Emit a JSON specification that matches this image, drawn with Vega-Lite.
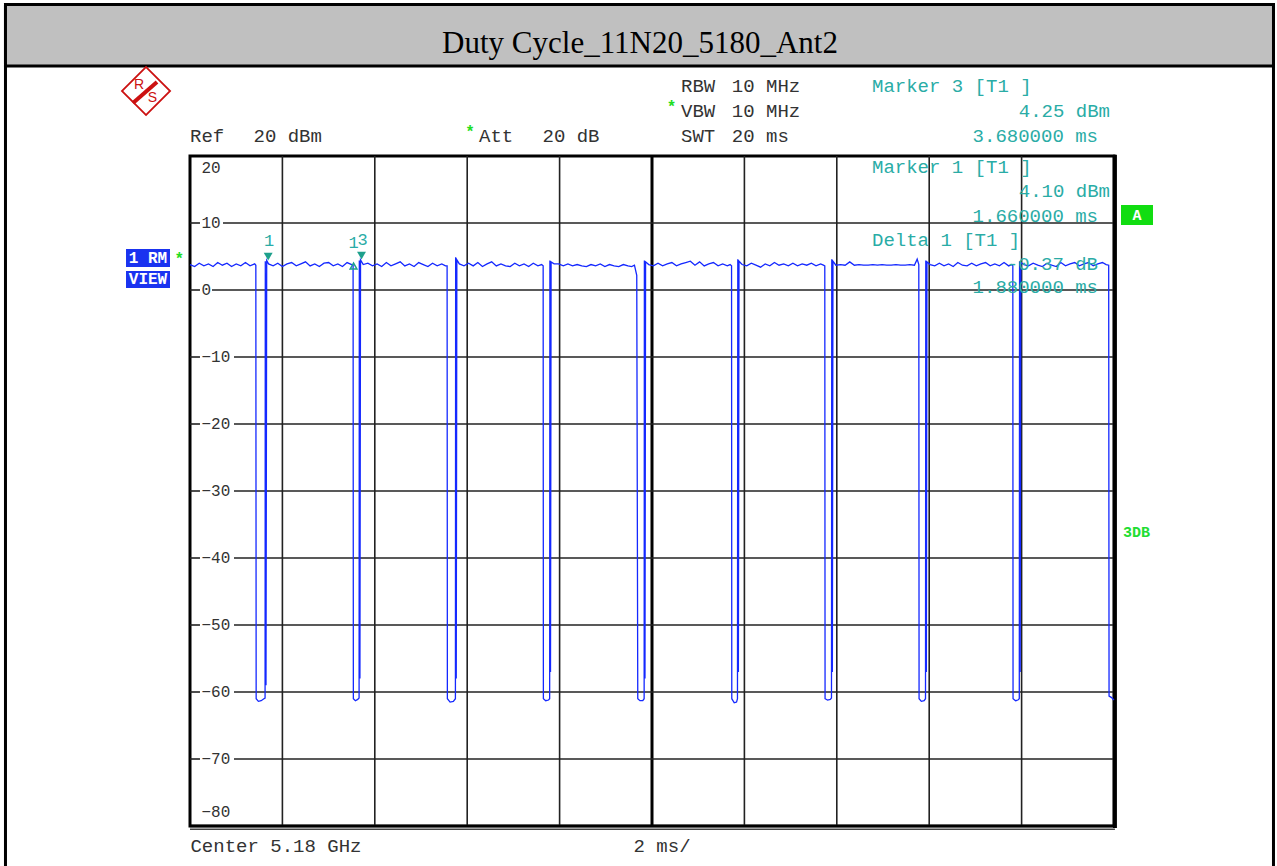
{
  "$schema": "https://vega.github.io/schema/vega-lite/v6.json",
  "width": 924,
  "height": 670,
  "autosize": {"type": "none"},
  "padding": {"left": 190, "top": 156, "right": 163, "bottom": 40},
  "background": "#ffffff",
  "config": {
    "view": {"stroke": "#000000", "strokeWidth": 3},
    "axis": {"disable": true}
  },
  "datasets": {
    "trace": [
      {"t": 0, "dbm": 3.8}, {"t": 0.1, "dbm": 3.5}, {"t": 0.2, "dbm": 4.0}, {"t": 0.3, "dbm": 3.6}, {"t": 0.4, "dbm": 3.9}, {"t": 0.5, "dbm": 3.5}, {"t": 0.6, "dbm": 4.1}, {"t": 0.7, "dbm": 3.7}, {"t": 0.8, "dbm": 4.0}, {"t": 0.9, "dbm": 3.5}, {"t": 1.0, "dbm": 3.9}, {"t": 1.1, "dbm": 3.6}, {"t": 1.2, "dbm": 4.1}, {"t": 1.3, "dbm": 3.6}, {"t": 1.4, "dbm": 3.9}, {"t": 1.425, "dbm": 3.7}, {"t": 1.432, "dbm": -61.0}, {"t": 1.48, "dbm": -61.4}, {"t": 1.54, "dbm": -61.3}, {"t": 1.6, "dbm": -61.0}, {"t": 1.625, "dbm": -60.9}, {"t": 1.63, "dbm": 4.3}, {"t": 1.645, "dbm": -59.0}, {"t": 1.66, "dbm": 4.4}, {"t": 1.7, "dbm": 3.9},
      {"t": 1.8, "dbm": 3.6}, {"t": 1.9, "dbm": 4.0}, {"t": 2.0, "dbm": 3.5}, {"t": 2.1, "dbm": 3.9}, {"t": 2.2, "dbm": 4.1}, {"t": 2.3, "dbm": 3.6}, {"t": 2.4, "dbm": 3.9}, {"t": 2.5, "dbm": 4.2}, {"t": 2.6, "dbm": 3.6}, {"t": 2.7, "dbm": 3.9}, {"t": 2.8, "dbm": 3.5}, {"t": 2.9, "dbm": 4.0}, {"t": 3.0, "dbm": 4.1}, {"t": 3.1, "dbm": 3.6}, {"t": 3.2, "dbm": 3.9}, {"t": 3.3, "dbm": 3.5}, {"t": 3.4, "dbm": 4.1}, {"t": 3.5, "dbm": 3.8}, {"t": 3.53, "dbm": 3.7}, {"t": 3.536, "dbm": -61.0}, {"t": 3.58, "dbm": -61.3}, {"t": 3.63, "dbm": -61.1}, {"t": 3.66, "dbm": -60.9}, {"t": 3.665, "dbm": 4.4}, {"t": 3.678, "dbm": -58.0}, {"t": 3.691, "dbm": 4.5}, {"t": 3.75, "dbm": 3.8},
      {"t": 3.85, "dbm": 4.0}, {"t": 3.95, "dbm": 3.6}, {"t": 4.05, "dbm": 3.9}, {"t": 4.15, "dbm": 3.5}, {"t": 4.25, "dbm": 4.1}, {"t": 4.35, "dbm": 3.6}, {"t": 4.45, "dbm": 3.9}, {"t": 4.55, "dbm": 4.2}, {"t": 4.65, "dbm": 3.6}, {"t": 4.75, "dbm": 3.9}, {"t": 4.85, "dbm": 3.5}, {"t": 4.95, "dbm": 4.1}, {"t": 5.05, "dbm": 3.8}, {"t": 5.15, "dbm": 3.5}, {"t": 5.25, "dbm": 4.0}, {"t": 5.35, "dbm": 3.6}, {"t": 5.45, "dbm": 3.9}, {"t": 5.53, "dbm": 3.6}, {"t": 5.565, "dbm": 3.6}, {"t": 5.571, "dbm": -61.0}, {"t": 5.63, "dbm": -61.5}, {"t": 5.7, "dbm": -61.4}, {"t": 5.745, "dbm": -61.0}, {"t": 5.75, "dbm": 4.9}, {"t": 5.763, "dbm": -58.0}, {"t": 5.776, "dbm": 4.5}, {"t": 5.83, "dbm": 3.9},
      {"t": 5.93, "dbm": 3.6}, {"t": 6.03, "dbm": 4.0}, {"t": 6.13, "dbm": 3.6}, {"t": 6.23, "dbm": 4.1}, {"t": 6.33, "dbm": 3.5}, {"t": 6.43, "dbm": 3.9}, {"t": 6.53, "dbm": 4.2}, {"t": 6.63, "dbm": 3.6}, {"t": 6.73, "dbm": 3.9}, {"t": 6.83, "dbm": 3.6}, {"t": 6.93, "dbm": 3.5}, {"t": 7.03, "dbm": 4.0}, {"t": 7.13, "dbm": 3.6}, {"t": 7.23, "dbm": 3.9}, {"t": 7.33, "dbm": 3.5}, {"t": 7.43, "dbm": 4.0}, {"t": 7.53, "dbm": 3.6}, {"t": 7.61, "dbm": 3.8}, {"t": 7.644, "dbm": 3.6}, {"t": 7.649, "dbm": -61.0}, {"t": 7.7, "dbm": -61.3}, {"t": 7.76, "dbm": -61.2}, {"t": 7.785, "dbm": -61.0}, {"t": 7.79, "dbm": 4.4}, {"t": 7.803, "dbm": -57.0}, {"t": 7.816, "dbm": 4.2}, {"t": 7.88, "dbm": 3.9},
      {"t": 7.98, "dbm": 3.9}, {"t": 8.08, "dbm": 3.6}, {"t": 8.18, "dbm": 3.9}, {"t": 8.28, "dbm": 3.6}, {"t": 8.38, "dbm": 3.8}, {"t": 8.48, "dbm": 3.6}, {"t": 8.58, "dbm": 3.5}, {"t": 8.68, "dbm": 3.8}, {"t": 8.78, "dbm": 3.6}, {"t": 8.88, "dbm": 3.9}, {"t": 8.98, "dbm": 3.5}, {"t": 9.08, "dbm": 3.8}, {"t": 9.18, "dbm": 3.6}, {"t": 9.28, "dbm": 3.5}, {"t": 9.38, "dbm": 3.8}, {"t": 9.48, "dbm": 3.6}, {"t": 9.56, "dbm": 3.5}, {"t": 9.62, "dbm": 3.7}, {"t": 9.67, "dbm": 2.2}, {"t": 9.692, "dbm": -61.0}, {"t": 9.74, "dbm": -61.3}, {"t": 9.8, "dbm": -61.3}, {"t": 9.83, "dbm": -61.0}, {"t": 9.835, "dbm": 4.4}, {"t": 9.848, "dbm": -58.0}, {"t": 9.861, "dbm": 4.2}, {"t": 9.93, "dbm": 3.8},
      {"t": 10.03, "dbm": 3.6}, {"t": 10.13, "dbm": 4.0}, {"t": 10.23, "dbm": 3.6}, {"t": 10.33, "dbm": 3.9}, {"t": 10.43, "dbm": 4.1}, {"t": 10.53, "dbm": 3.6}, {"t": 10.63, "dbm": 3.9}, {"t": 10.73, "dbm": 4.1}, {"t": 10.83, "dbm": 4.3}, {"t": 10.93, "dbm": 3.7}, {"t": 11.03, "dbm": 4.2}, {"t": 11.13, "dbm": 3.6}, {"t": 11.23, "dbm": 3.9}, {"t": 11.33, "dbm": 4.1}, {"t": 11.43, "dbm": 3.6}, {"t": 11.53, "dbm": 3.9}, {"t": 11.63, "dbm": 3.6}, {"t": 11.69, "dbm": 3.8}, {"t": 11.722, "dbm": 3.6}, {"t": 11.727, "dbm": -61.0}, {"t": 11.78, "dbm": -61.6}, {"t": 11.83, "dbm": -61.5}, {"t": 11.85, "dbm": -61.0}, {"t": 11.857, "dbm": 4.6}, {"t": 11.87, "dbm": -57.0}, {"t": 11.883, "dbm": 4.3}, {"t": 11.95, "dbm": 3.8},
      {"t": 12.05, "dbm": 3.6}, {"t": 12.15, "dbm": 4.0}, {"t": 12.25, "dbm": 3.7}, {"t": 12.35, "dbm": 3.4}, {"t": 12.45, "dbm": 3.9}, {"t": 12.55, "dbm": 3.6}, {"t": 12.65, "dbm": 4.1}, {"t": 12.75, "dbm": 3.7}, {"t": 12.85, "dbm": 3.9}, {"t": 12.95, "dbm": 3.6}, {"t": 13.05, "dbm": 4.0}, {"t": 13.15, "dbm": 3.6}, {"t": 13.25, "dbm": 3.9}, {"t": 13.35, "dbm": 3.7}, {"t": 13.45, "dbm": 4.0}, {"t": 13.55, "dbm": 3.6}, {"t": 13.65, "dbm": 3.9}, {"t": 13.71, "dbm": 3.7}, {"t": 13.74, "dbm": 3.6}, {"t": 13.746, "dbm": -61.0}, {"t": 13.8, "dbm": -61.2}, {"t": 13.86, "dbm": -61.1}, {"t": 13.885, "dbm": -60.9}, {"t": 13.891, "dbm": 4.6}, {"t": 13.904, "dbm": -57.0}, {"t": 13.917, "dbm": 4.3}, {"t": 13.98, "dbm": 3.7},
      {"t": 14.08, "dbm": 3.8}, {"t": 14.18, "dbm": 3.7}, {"t": 14.28, "dbm": 4.2}, {"t": 14.38, "dbm": 3.7}, {"t": 14.48, "dbm": 3.8}, {"t": 14.58, "dbm": 3.7}, {"t": 14.68, "dbm": 3.7}, {"t": 14.78, "dbm": 3.8}, {"t": 14.88, "dbm": 3.7}, {"t": 14.98, "dbm": 3.8}, {"t": 15.08, "dbm": 3.7}, {"t": 15.18, "dbm": 3.7}, {"t": 15.28, "dbm": 3.8}, {"t": 15.38, "dbm": 3.7}, {"t": 15.48, "dbm": 3.7}, {"t": 15.58, "dbm": 3.8}, {"t": 15.68, "dbm": 3.7}, {"t": 15.74, "dbm": 4.6}, {"t": 15.775, "dbm": 3.8}, {"t": 15.781, "dbm": -61.0}, {"t": 15.83, "dbm": -61.4}, {"t": 15.89, "dbm": -61.3}, {"t": 15.92, "dbm": -61.0}, {"t": 15.926, "dbm": 4.4}, {"t": 15.939, "dbm": -57.0}, {"t": 15.952, "dbm": 4.2}, {"t": 16.02, "dbm": 3.8},
      {"t": 16.12, "dbm": 3.6}, {"t": 16.22, "dbm": 4.0}, {"t": 16.32, "dbm": 3.6}, {"t": 16.42, "dbm": 3.9}, {"t": 16.52, "dbm": 3.5}, {"t": 16.62, "dbm": 4.1}, {"t": 16.72, "dbm": 3.7}, {"t": 16.82, "dbm": 3.6}, {"t": 16.92, "dbm": 4.0}, {"t": 17.02, "dbm": 3.6}, {"t": 17.12, "dbm": 3.9}, {"t": 17.22, "dbm": 4.1}, {"t": 17.32, "dbm": 3.6}, {"t": 17.42, "dbm": 3.9}, {"t": 17.52, "dbm": 3.6}, {"t": 17.62, "dbm": 4.1}, {"t": 17.72, "dbm": 3.6}, {"t": 17.78, "dbm": 3.8}, {"t": 17.81, "dbm": 3.6}, {"t": 17.815, "dbm": -61.0}, {"t": 17.87, "dbm": -61.3}, {"t": 17.92, "dbm": -61.2}, {"t": 17.95, "dbm": -61.0}, {"t": 17.956, "dbm": 4.3}, {"t": 17.969, "dbm": -57.0}, {"t": 17.982, "dbm": 4.1}, {"t": 18.05, "dbm": 3.8},
      {"t": 18.15, "dbm": 3.6}, {"t": 18.25, "dbm": 4.0}, {"t": 18.35, "dbm": 3.7}, {"t": 18.45, "dbm": 3.5}, {"t": 18.55, "dbm": 4.0}, {"t": 18.65, "dbm": 3.7}, {"t": 18.75, "dbm": 3.5}, {"t": 18.85, "dbm": 4.1}, {"t": 18.95, "dbm": 3.6}, {"t": 19.05, "dbm": 3.9}, {"t": 19.15, "dbm": 4.1}, {"t": 19.25, "dbm": 3.6}, {"t": 19.35, "dbm": 3.9}, {"t": 19.45, "dbm": 4.1}, {"t": 19.55, "dbm": 3.6}, {"t": 19.65, "dbm": 3.9}, {"t": 19.75, "dbm": 4.1}, {"t": 19.83, "dbm": 3.8}, {"t": 19.885, "dbm": 3.7}, {"t": 19.893, "dbm": -60.6}, {"t": 19.94, "dbm": -60.8}, {"t": 20.0, "dbm": -61.2}
    ],
    "hlev": [{"level": 10}, {"level": 0}, {"level": -10}, {"level": -20}, {"level": -30}, {"level": -40}, {"level": -50}, {"level": -60}, {"level": -70}],
    "vlev": [{"t": 2}, {"t": 4}, {"t": 6}, {"t": 8}, {"t": 12}, {"t": 14}, {"t": 16}, {"t": 18}],
    "markers": [
      {"t": 1.66, "level": 4.10, "label": "1", "kind": "marker"},
      {"t": 3.68, "level": 4.25, "label": "3", "kind": "marker"},
      {"t": 3.54, "level": 3.73, "label": "1", "kind": "delta"}
    ]
  },
  "layer": [
    {"data": {"values": [{}]}, "mark": {"type": "rect", "fill": "#ffffff", "fillOpacity": 0, "stroke": "#000000", "strokeWidth": 3},
     "encoding": {"x": {"datum": -3.994, "type": "quantitative", "scale": {"domain": [0, 20], "nice": false, "zero": false}}, "x2": {"datum": 23.452}, "y": {"datum": 42.612, "type": "quantitative", "scale": {"domain": [-80, 20], "nice": false, "zero": false}}, "y2": {"datum": -86.57}}},
    {"data": {"values": [{}]}, "mark": {"type": "rect", "fill": "#c0c0c0", "stroke": "#000000", "strokeWidth": 3},
     "encoding": {"x": {"datum": -3.994, "type": "quantitative"}, "x2": {"datum": 23.452}, "y": {"datum": 42.612, "type": "quantitative"}, "y2": {"datum": 33.433}}},
    {"data": {"values": [{}]}, "mark": {"type": "text", "text": "Duty Cycle_11N20_5180_Ant2", "font": "Liberation Serif", "fontSize": 31, "fill": "#000000", "align": "center", "baseline": "alphabetic"},
     "encoding": {"x": {"datum": 9.74, "type": "quantitative"}, "y": {"datum": 35.37, "type": "quantitative"}}},
    {"data": {"values": [{}]}, "mark": {"type": "point", "shape": "square", "angle": 45, "size": 1156, "filled": false, "stroke": "#cc1111", "strokeWidth": 1.8, "opacity": 1},
     "encoding": {"x": {"datum": -0.952, "type": "quantitative"}, "y": {"datum": 29.7, "type": "quantitative"}}},
    {"data": {"values": [{}]}, "mark": {"type": "rule", "stroke": "#cc1111", "strokeWidth": 4},
     "encoding": {"x": {"datum": -0.714, "type": "quantitative"}, "y": {"datum": 31.04, "type": "quantitative"}, "x2": {"datum": -1.234}, "y2": {"datum": 27.91}}},
    {"data": {"values": [{}]}, "mark": {"type": "text", "text": "R", "font": "Liberation Sans", "fontSize": 14, "fill": "#cc1111", "align": "center", "baseline": "middle"},
     "encoding": {"x": {"datum": -1.104, "type": "quantitative"}, "y": {"datum": 30.6, "type": "quantitative"}}},
    {"data": {"values": [{}]}, "mark": {"type": "text", "text": "S", "font": "Liberation Sans", "fontSize": 14, "fill": "#cc1111", "align": "center", "baseline": "middle"},
     "encoding": {"x": {"datum": -0.812, "type": "quantitative"}, "y": {"datum": 28.66, "type": "quantitative"}}},

    {"data": {"values": [{}]}, "mark": {"type": "text", "text": "Ref", "font": "Liberation Mono", "fontSize": 19, "fill": "#333333", "align": "left", "baseline": "alphabetic"},
     "encoding": {"x": {"datum": 0.0, "type": "quantitative"}, "y": {"datum": 22.16, "type": "quantitative"}}},
    {"data": {"values": [{}]}, "mark": {"type": "text", "text": "20 dBm", "font": "Liberation Mono", "fontSize": 19, "fill": "#333333", "align": "left", "baseline": "alphabetic"},
     "encoding": {"x": {"datum": 1.374, "type": "quantitative"}, "y": {"datum": 22.16, "type": "quantitative"}}},
    {"data": {"values": [{}]}, "mark": {"type": "text", "text": "*", "font": "Liberation Mono", "fontSize": 16, "fontWeight": "bold", "fill": "#22dd22", "align": "center", "baseline": "alphabetic"},
     "encoding": {"x": {"datum": 6.061, "type": "quantitative"}, "y": {"datum": 22.9, "type": "quantitative"}}},
    {"data": {"values": [{}]}, "mark": {"type": "text", "text": "Att", "font": "Liberation Mono", "fontSize": 19, "fill": "#333333", "align": "left", "baseline": "alphabetic"},
     "encoding": {"x": {"datum": 6.255, "type": "quantitative"}, "y": {"datum": 22.16, "type": "quantitative"}}},
    {"data": {"values": [{}]}, "mark": {"type": "text", "text": "20 dB", "font": "Liberation Mono", "fontSize": 19, "fill": "#333333", "align": "left", "baseline": "alphabetic"},
     "encoding": {"x": {"datum": 7.63, "type": "quantitative"}, "y": {"datum": 22.16, "type": "quantitative"}}},
    {"data": {"values": [{}]}, "mark": {"type": "text", "text": "RBW", "font": "Liberation Mono", "fontSize": 19, "fill": "#333333", "align": "left", "baseline": "alphabetic"},
     "encoding": {"x": {"datum": 10.628, "type": "quantitative"}, "y": {"datum": 29.55, "type": "quantitative"}}},
    {"data": {"values": [{}]}, "mark": {"type": "text", "text": "10 MHz", "font": "Liberation Mono", "fontSize": 19, "fill": "#333333", "align": "left", "baseline": "alphabetic"},
     "encoding": {"x": {"datum": 11.727, "type": "quantitative"}, "y": {"datum": 29.55, "type": "quantitative"}}},
    {"data": {"values": [{}]}, "mark": {"type": "text", "text": "*", "font": "Liberation Mono", "fontSize": 16, "fontWeight": "bold", "fill": "#22dd22", "align": "center", "baseline": "alphabetic"},
     "encoding": {"x": {"datum": 10.422, "type": "quantitative"}, "y": {"datum": 26.6, "type": "quantitative"}}},
    {"data": {"values": [{}]}, "mark": {"type": "text", "text": "VBW", "font": "Liberation Mono", "fontSize": 19, "fill": "#333333", "align": "left", "baseline": "alphabetic"},
     "encoding": {"x": {"datum": 10.628, "type": "quantitative"}, "y": {"datum": 25.82, "type": "quantitative"}}},
    {"data": {"values": [{}]}, "mark": {"type": "text", "text": "10 MHz", "font": "Liberation Mono", "fontSize": 19, "fill": "#333333", "align": "left", "baseline": "alphabetic"},
     "encoding": {"x": {"datum": 11.727, "type": "quantitative"}, "y": {"datum": 25.82, "type": "quantitative"}}},
    {"data": {"values": [{}]}, "mark": {"type": "text", "text": "SWT", "font": "Liberation Mono", "fontSize": 19, "fill": "#333333", "align": "left", "baseline": "alphabetic"},
     "encoding": {"x": {"datum": 10.628, "type": "quantitative"}, "y": {"datum": 22.16, "type": "quantitative"}}},
    {"data": {"values": [{}]}, "mark": {"type": "text", "text": "20 ms", "font": "Liberation Mono", "fontSize": 19, "fill": "#333333", "align": "left", "baseline": "alphabetic"},
     "encoding": {"x": {"datum": 11.727, "type": "quantitative"}, "y": {"datum": 22.16, "type": "quantitative"}}},

    {"data": {"values": [{}]}, "mark": {"type": "rect", "fill": "#1a33f0"},
     "encoding": {"x": {"datum": -1.385, "type": "quantitative"}, "x2": {"datum": -0.433}, "y": {"datum": 6.12, "type": "quantitative"}, "y2": {"datum": 3.43}}},
    {"data": {"values": [{}]}, "mark": {"type": "rect", "fill": "#1a33f0"},
     "encoding": {"x": {"datum": -1.385, "type": "quantitative"}, "x2": {"datum": -0.433}, "y": {"datum": 2.84, "type": "quantitative"}, "y2": {"datum": 0.3}}},
    {"data": {"values": [{}]}, "mark": {"type": "text", "text": "1 RM", "font": "Liberation Mono", "fontSize": 16, "fontWeight": "bold", "fill": "#ffffff", "align": "center", "baseline": "middle"},
     "encoding": {"x": {"datum": -0.909, "type": "quantitative"}, "y": {"datum": 4.78, "type": "quantitative"}}},
    {"data": {"values": [{}]}, "mark": {"type": "text", "text": "VIEW", "font": "Liberation Mono", "fontSize": 16, "fontWeight": "bold", "fill": "#ffffff", "align": "center", "baseline": "middle"},
     "encoding": {"x": {"datum": -0.909, "type": "quantitative"}, "y": {"datum": 1.57, "type": "quantitative"}}},
    {"data": {"values": [{}]}, "mark": {"type": "text", "text": "*", "font": "Liberation Mono", "fontSize": 16, "fontWeight": "bold", "fill": "#22dd22", "align": "center", "baseline": "middle"},
     "encoding": {"x": {"datum": -0.232, "type": "quantitative"}, "y": {"datum": 4.6, "type": "quantitative"}}},

    {"data": {"name": "vlev"}, "mark": {"type": "rule", "stroke": "#222222", "strokeWidth": 1.6},
     "encoding": {"x": {"field": "t", "type": "quantitative"}, "y": {"datum": -80, "type": "quantitative"}, "y2": {"datum": 20}}},
    {"data": {"values": [{}]}, "mark": {"type": "rule", "stroke": "#000000", "strokeWidth": 3},
     "encoding": {"x": {"datum": 10, "type": "quantitative"}, "y": {"datum": -80, "type": "quantitative"}, "y2": {"datum": 20}}},
    {"data": {"name": "hlev"}, "mark": {"type": "rule", "stroke": "#222222", "strokeWidth": 1.6},
     "encoding": {"x": {"datum": 0, "type": "quantitative"}, "x2": {"datum": 0.216}, "y": {"field": "level", "type": "quantitative"}}},
    {"data": {"name": "hlev"}, "transform": [{"filter": "datum.level == 10"}], "mark": {"type": "rule", "stroke": "#222222", "strokeWidth": 1.6},
     "encoding": {"x": {"datum": 0.714, "type": "quantitative"}, "x2": {"datum": 20}, "y": {"field": "level", "type": "quantitative"}}},
    {"data": {"name": "hlev"}, "transform": [{"filter": "datum.level == 0"}], "mark": {"type": "rule", "stroke": "#222222", "strokeWidth": 1.6},
     "encoding": {"x": {"datum": 0.476, "type": "quantitative"}, "x2": {"datum": 20}, "y": {"field": "level", "type": "quantitative"}}},
    {"data": {"name": "hlev"}, "transform": [{"filter": "datum.level < 0"}], "mark": {"type": "rule", "stroke": "#222222", "strokeWidth": 1.6},
     "encoding": {"x": {"datum": 0.952, "type": "quantitative"}, "x2": {"datum": 20}, "y": {"field": "level", "type": "quantitative"}}},
    {"data": {"values": [{}]}, "mark": {"type": "rule", "stroke": "#000000", "strokeWidth": 4},
     "encoding": {"x": {"datum": 20.02, "type": "quantitative"}, "y": {"datum": -80.3, "type": "quantitative"}, "y2": {"datum": 20.2}}},
    {"data": {"values": [{}]}, "mark": {"type": "rule", "stroke": "#000000", "strokeWidth": 2.5},
     "encoding": {"x": {"datum": 0, "type": "quantitative"}, "x2": {"datum": 20.02}, "y": {"datum": -80, "type": "quantitative"}}},
    {"data": {"values": [{}]}, "mark": {"type": "rule", "stroke": "#444444", "strokeWidth": 1.5},
     "encoding": {"x": {"datum": 0, "type": "quantitative"}, "x2": {"datum": 20.02}, "y": {"datum": -80.5, "type": "quantitative"}}},

    {"data": {"name": "hlev"}, "mark": {"type": "text", "align": "left", "baseline": "middle", "font": "Liberation Mono", "fontSize": 16, "fill": "#333333"},
     "encoding": {"x": {"datum": 0.249, "type": "quantitative"}, "y": {"field": "level", "type": "quantitative"}, "text": {"field": "level", "type": "quantitative"}}},
    {"data": {"values": [{}]}, "mark": {"type": "text", "text": "20", "align": "left", "baseline": "middle", "font": "Liberation Mono", "fontSize": 16, "fill": "#333333"},
     "encoding": {"x": {"datum": 0.249, "type": "quantitative"}, "y": {"datum": 18.2, "type": "quantitative"}}},
    {"data": {"values": [{}]}, "mark": {"type": "text", "text": "−80", "align": "left", "baseline": "middle", "font": "Liberation Mono", "fontSize": 16, "fill": "#333333"},
     "encoding": {"x": {"datum": 0.249, "type": "quantitative"}, "y": {"datum": -77.9, "type": "quantitative"}}},

    {"data": {"name": "trace"}, "mark": {"type": "line", "stroke": "#1428ff", "strokeWidth": 1.3, "interpolate": "linear"},
     "encoding": {"x": {"field": "t", "type": "quantitative"}, "y": {"field": "dbm", "type": "quantitative"}}},

    {"data": {"name": "markers"}, "transform": [{"filter": "datum.kind == 'marker'"}], "mark": {"type": "point", "shape": "triangle-down", "filled": true, "fill": "#1ea08c", "size": 80, "opacity": 1},
     "encoding": {"x": {"field": "t", "type": "quantitative"}, "y": {"field": "level", "type": "quantitative"}, "xOffset": {"value": 1.5}, "yOffset": {"value": -6}}},
    {"data": {"name": "markers"}, "transform": [{"filter": "datum.kind == 'delta'"}], "mark": {"type": "point", "shape": "triangle-up", "filled": false, "stroke": "#1ea08c", "strokeWidth": 1.5, "size": 45, "opacity": 1},
     "encoding": {"x": {"field": "t", "type": "quantitative"}, "y": {"field": "level", "type": "quantitative"}, "yOffset": {"value": 1}}},
    {"data": {"name": "markers"}, "transform": [{"filter": "datum.kind == 'marker'"}], "mark": {"type": "text", "font": "Liberation Mono", "fontSize": 17, "fill": "#2aaca6", "align": "center", "baseline": "middle"},
     "encoding": {"x": {"field": "t", "type": "quantitative"}, "y": {"field": "level", "type": "quantitative"}, "text": {"field": "label"}, "xOffset": {"value": 2.5}, "yOffset": {"value": -22}}},
    {"data": {"name": "markers"}, "transform": [{"filter": "datum.kind == 'delta'"}], "mark": {"type": "text", "font": "Liberation Mono", "fontSize": 17, "fill": "#2aaca6", "align": "center", "baseline": "middle"},
     "encoding": {"x": {"field": "t", "type": "quantitative"}, "y": {"field": "level", "type": "quantitative"}, "text": {"field": "label"}, "yOffset": {"value": -22}}},

    {"data": {"values": [{}]}, "mark": {"type": "text", "text": "Marker 3 [T1 ]", "font": "Liberation Mono", "fontSize": 19, "fill": "#2aaca6", "align": "left", "baseline": "alphabetic"},
     "encoding": {"x": {"datum": 14.762, "type": "quantitative"}, "y": {"datum": 29.55, "type": "quantitative"}}},
    {"data": {"values": [{}]}, "mark": {"type": "text", "text": "4.25 dBm", "font": "Liberation Mono", "fontSize": 19, "fill": "#2aaca6", "align": "right", "baseline": "alphabetic"},
     "encoding": {"x": {"datum": 19.913, "type": "quantitative"}, "y": {"datum": 25.82, "type": "quantitative"}}},
    {"data": {"values": [{}]}, "mark": {"type": "text", "text": "3.680000 ms", "font": "Liberation Mono", "fontSize": 19, "fill": "#2aaca6", "align": "right", "baseline": "alphabetic"},
     "encoding": {"x": {"datum": 19.654, "type": "quantitative"}, "y": {"datum": 22.16, "type": "quantitative"}}},
    {"data": {"values": [{}]}, "mark": {"type": "text", "text": "Marker 1 [T1 ]", "font": "Liberation Mono", "fontSize": 19, "fill": "#2aaca6", "align": "left", "baseline": "alphabetic"},
     "encoding": {"x": {"datum": 14.762, "type": "quantitative"}, "y": {"datum": 17.42, "type": "quantitative"}}},
    {"data": {"values": [{}]}, "mark": {"type": "text", "text": "4.10 dBm", "font": "Liberation Mono", "fontSize": 19, "fill": "#2aaca6", "align": "right", "baseline": "alphabetic"},
     "encoding": {"x": {"datum": 19.913, "type": "quantitative"}, "y": {"datum": 13.84, "type": "quantitative"}}},
    {"data": {"values": [{}]}, "mark": {"type": "text", "text": "1.660000 ms", "font": "Liberation Mono", "fontSize": 19, "fill": "#2aaca6", "align": "right", "baseline": "alphabetic"},
     "encoding": {"x": {"datum": 19.654, "type": "quantitative"}, "y": {"datum": 10.19, "type": "quantitative"}}},
    {"data": {"values": [{}]}, "mark": {"type": "text", "text": "Delta 1 [T1 ]", "font": "Liberation Mono", "fontSize": 19, "fill": "#2aaca6", "align": "left", "baseline": "alphabetic"},
     "encoding": {"x": {"datum": 14.762, "type": "quantitative"}, "y": {"datum": 6.61, "type": "quantitative"}}},
    {"data": {"values": [{}]}, "mark": {"type": "text", "text": "-0.37 dB", "font": "Liberation Mono", "fontSize": 19, "fill": "#2aaca6", "align": "right", "baseline": "alphabetic"},
     "encoding": {"x": {"datum": 19.654, "type": "quantitative"}, "y": {"datum": 2.99, "type": "quantitative"}}},
    {"data": {"values": [{}]}, "mark": {"type": "text", "text": "1.880000 ms", "font": "Liberation Mono", "fontSize": 19, "fill": "#2aaca6", "align": "right", "baseline": "alphabetic"},
     "encoding": {"x": {"datum": 19.654, "type": "quantitative"}, "y": {"datum": -0.49, "type": "quantitative"}}},

    {"data": {"values": [{}]}, "mark": {"type": "rect", "fill": "#11dd11"},
     "encoding": {"x": {"datum": 20.152, "type": "quantitative"}, "x2": {"datum": 20.844}, "y": {"datum": 12.69, "type": "quantitative"}, "y2": {"datum": 9.7}}},
    {"data": {"values": [{}]}, "mark": {"type": "text", "text": "A", "font": "Liberation Mono", "fontSize": 15, "fontWeight": "bold", "fill": "#ffffff", "align": "center", "baseline": "middle"},
     "encoding": {"x": {"datum": 20.498, "type": "quantitative"}, "y": {"datum": 11.19, "type": "quantitative"}}},
    {"data": {"values": [{}]}, "mark": {"type": "text", "text": "3DB", "font": "Liberation Mono", "fontSize": 15, "fontWeight": "bold", "fill": "#22dd33", "align": "left", "baseline": "alphabetic"},
     "encoding": {"x": {"datum": 20.195, "type": "quantitative"}, "y": {"datum": -36.87, "type": "quantitative"}}},
    {"data": {"values": [{}]}, "mark": {"type": "text", "text": "Center 5.18 GHz", "font": "Liberation Mono", "fontSize": 19, "fill": "#333333", "align": "left", "baseline": "alphabetic"},
     "encoding": {"x": {"datum": 0.01, "type": "quantitative"}, "y": {"datum": -83.93, "type": "quantitative"}}},
    {"data": {"values": [{}]}, "mark": {"type": "text", "text": "2 ms/", "font": "Liberation Mono", "fontSize": 19, "fill": "#333333", "align": "left", "baseline": "alphabetic"},
     "encoding": {"x": {"datum": 9.6, "type": "quantitative"}, "y": {"datum": -83.84, "type": "quantitative"}}}
  ]
}
